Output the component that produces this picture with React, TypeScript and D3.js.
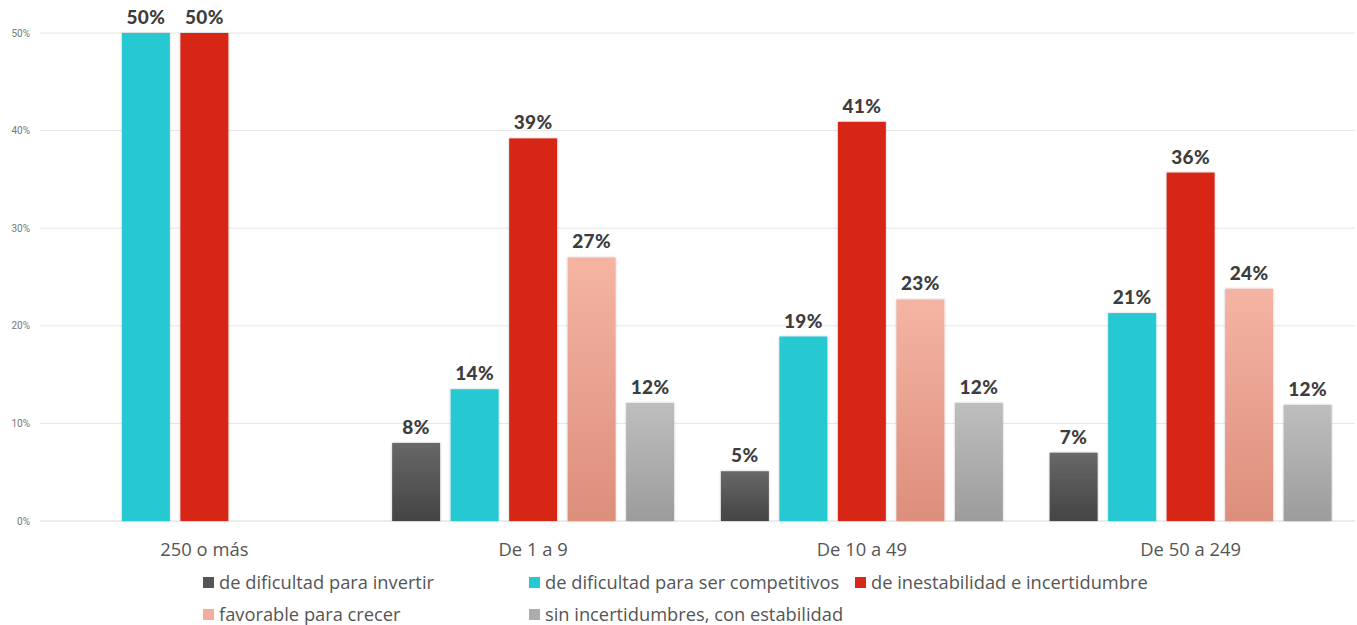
import React from "react";
import * as d3 from "d3";

const categories = ["250 o más", "De 1 a 9", "De 10 a 49", "De 50 a 249"];
const seriesNames = [
  "de dificultad para invertir",
  "de dificultad para ser competitivos",
  "de inestabilidad e incertidumbre",
  "favorable para crecer",
  "sin incertidumbres, con estabilidad",
];
const dificultadInvertir = [0, 8.0, 5.1, 7.0];
const dificultadCompetitivos = [50, 13.5, 18.9, 21.3];
const inestabilidad = [50, 39.2, 40.9, 35.7];
const favorable = [0, 27.0, 22.7, 23.8];
const sinIncertidumbre = [0, 12.1, 12.1, 11.9];
const seriesValues = [dificultadInvertir, dificultadCompetitivos, inestabilidad, favorable, sinIncertidumbre];
const yTicks = [0, 10, 20, 30, 40, 50];

const W = 1357;
const H = 625;
const plotLeft = 40;
const plotRight = 1355;
const plotTop = 33;
const plotBottom = 521;

const gradients = [
  ["#686868", "#444444"],
  ["#26c8d2", "#26c8d2"],
  ["#d72819", "#d72819"],
  ["#f5b4a3", "#dd8e7c"],
  ["#bebebe", "#9c9c9c"],
];
const swatch = ["#555555", "#26c8d2", "#d72819", "#f2ad9c", "#acacac"];

export default function App() {
  const x0 = d3.scaleBand<string>().domain(categories).range([plotLeft, plotRight]).padding(0);
  const x1 = d3
    .scaleBand<number>()
    .domain(d3.range(seriesNames.length))
    .range([0, x0.bandwidth()])
    .paddingInner(0.18)
    .paddingOuter(0.4);
  const y = d3.scaleLinear().domain([0, 50]).range([plotBottom, plotTop]);
  const fmt = (v: number) => `${Math.round(v)}%`;

  return (
    <svg width={W} height={H} style={{ position: "absolute", left: 0, top: 0, background: "#fff" }}>
      <defs>
        {gradients.map((g, i) => (
          <linearGradient key={i} id={`g${i}`} x1="0" y1="0" x2="0" y2="1">
            <stop offset="0%" stopColor={g[0]} />
            <stop offset="100%" stopColor={g[1]} />
          </linearGradient>
        ))}
        <filter id="sh" x="-20%" y="-10%" width="140%" height="120%">
          <feDropShadow dx="0" dy="0" stdDeviation="1.2" floodColor="#000" floodOpacity="0.25" />
        </filter>
      </defs>
      {yTicks.map((t) => (
        <g key={t}>
          <line x1={plotLeft} x2={plotRight} y1={y(t)} y2={y(t)} stroke={t === 0 ? "#d8d8d8" : "#e6e6e6"} strokeWidth={1} />
          <text x={30} y={y(t) + 3.5} textAnchor="end" fontFamily="Roboto, sans-serif" fontSize={10} fill="#777">
            {`${t}%`}
          </text>
        </g>
      ))}
      {categories.map((c, ci) => (
        <g key={c} transform={`translate(${x0(c)},0)`}>
          {seriesValues.map((vals, si) => {
            const v = vals[ci];
            if (!v) return null;
            const bx = x1(si)!;
            return (
              <g key={si}>
                <rect
                  x={bx}
                  y={y(v)}
                  width={x1.bandwidth()}
                  height={plotBottom - y(v)}
                  fill={`url(#g${si})`}
                  filter="url(#sh)"
                />
                <text
                  x={bx + x1.bandwidth() / 2}
                  y={y(v) - 9}
                  textAnchor="middle"
                  fontFamily="Lato, sans-serif"
                  fontWeight={900}
                  fontSize={19}
                  letterSpacing={0.4}
                  fill="#3d3d3d"
                >
                  {fmt(v)}
                </text>
              </g>
            );
          })}
          <text
            x={x0.bandwidth() / 2}
            y={556}
            textAnchor="middle"
            fontFamily="'Open Sans', sans-serif"
            fontSize={18.4}
            fill="#555"
          >
            {c}
          </text>
        </g>
      ))}
      {seriesNames.map((s, i) => {
        const lx = 203 + (i % 3) * 326;
        const ly = i < 3 ? 589 : 621;
        return (
          <g key={s}>
            <rect x={lx} y={ly - 12} width={11} height={11} fill={swatch[i]} />
            <text x={lx + 16} y={ly} fontFamily="'Open Sans', sans-serif" fontSize={18.3} fill="#555">
              {s}
            </text>
          </g>
        );
      })}
    </svg>
  );
}
